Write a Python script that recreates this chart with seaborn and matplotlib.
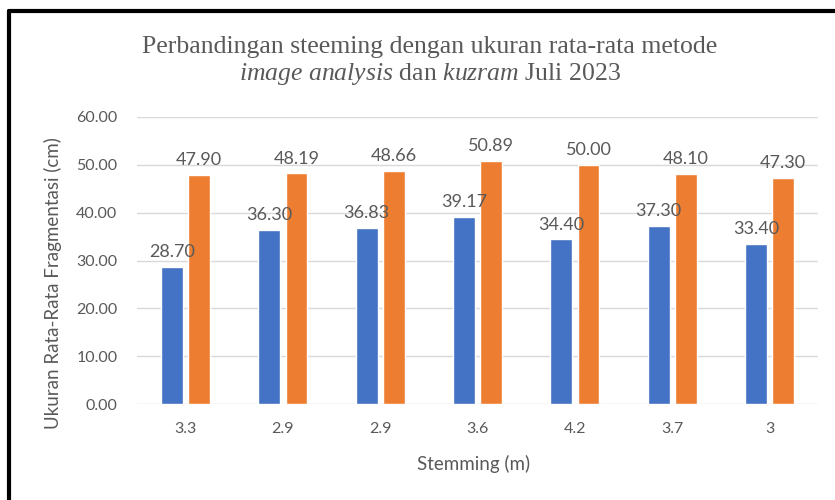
import matplotlib
matplotlib.use("Agg")
import matplotlib.pyplot as plt
import seaborn as sns
import pandas as pd
from matplotlib.lines import Line2D

# data
stemming = ["3.3", "2.9", "2.9", "3.6", "4.2", "3.7", "3"]
image_analysis = [28.70, 36.30, 36.83, 39.17, 34.40, 37.30, 33.40]
kuzram = [47.90, 48.19, 48.66, 50.89, 50.00, 48.10, 47.30]

df = pd.DataFrame({
    "pos": list(range(len(stemming))) * 2,
    "nilai": image_analysis + kuzram,
    "metode": ["Image analysis"] * len(stemming) + ["Kuzram"] * len(stemming),
})

sns.set_theme(style="white")
plt.rcParams["font.family"] = ["Lato", "DejaVu Sans"]
plt.rcParams["mathtext.fontset"] = "custom"
plt.rcParams["mathtext.it"] = "Liberation Serif:italic"
plt.rcParams["mathtext.rm"] = "Liberation Serif"

grey = "#595959"

fig = plt.figure(figsize=(8.35, 5), dpi=100)
ax = fig.add_axes([0.164, 0.192, 0.816, 0.574])

sns.barplot(data=df, x="pos", y="nilai", hue="metode",
            palette=["#4472C4", "#ED7D31"], width=0.56, gap=0.2,
            legend=False, ax=ax, saturation=1)

for c in ax.containers:
    ax.bar_label(c, fmt="%.2f", padding=5, color=grey, fontsize=13)

ax.set_ylim(0, 60)
ax.set_yticks(range(0, 61, 10))
ax.set_yticklabels([f"{v:.2f}" for v in range(0, 61, 10)], color=grey, fontsize=11.5)
ax.set_xticks(range(len(stemming)))
ax.set_xticklabels(stemming, color=grey, fontsize=11.5)
ax.set_xlim(-0.5, len(stemming) - 0.5)
ax.tick_params(axis="y", length=0, pad=14)
ax.tick_params(axis="x", length=0, pad=13)
ax.yaxis.grid(True, color="#D9D9D9", linewidth=1)
ax.set_axisbelow(True)
for s in ax.spines.values():
    s.set_visible(False)
ax.set_xlabel("")
ax.set_ylabel("")

fig.text(53 / 835, 1 - 283 / 500, "Ukuran Rata-Rata Fragmentasi (cm)",
         rotation=90, ha="center", va="center", color=grey, fontsize=13.5)
fig.text(474 / 835, 1 - 464 / 500, "Stemming (m)", ha="center", va="center",
         color=grey, fontsize=13.5)

fig.text(430 / 835, 1 - 53 / 500, "Perbandingan steeming dengan ukuran rata-rata metode",
         ha="center", va="baseline", color=grey, fontsize=18.5, family="Liberation Serif")
fig.text(430 / 835, 1 - 80 / 500,
         r"$\mathit{image\ analysis}$ dan $\mathit{kuzram}$ Juli 2023",
         ha="center", va="baseline", color=grey, fontsize=18.5, family="Liberation Serif")

# black frame (top and left edge visible in the reference)
fig.add_artist(Line2D([9 / 835, 1], [1 - 11 / 500, 1 - 11 / 500],
                      color="black", linewidth=3, transform=fig.transFigure))
fig.add_artist(Line2D([9 / 835, 9 / 835], [0, 1 - 11 / 500],
                      color="black", linewidth=3, transform=fig.transFigure))

fig.savefig("out.png", dpi=100)
